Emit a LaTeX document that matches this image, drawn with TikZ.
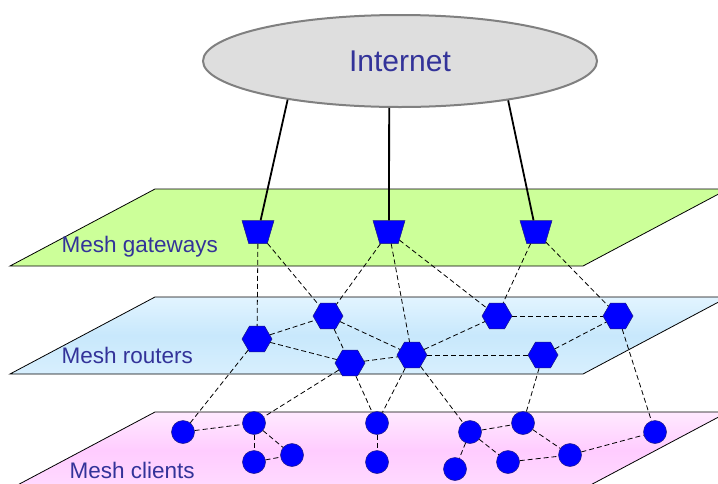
\documentclass[tikz,border=0pt]{standalone}
\usepackage{fontspec}
\setmainfont{Liberation Sans}
\usetikzlibrary{shapes.geometric}

\definecolor{labelblue}{HTML}{333399}
\definecolor{nodeblue}{HTML}{0000FF}
\definecolor{nodeedge}{HTML}{1A1A80}
\definecolor{gwgreen}{HTML}{CCFF99}
\definecolor{rtlight}{HTML}{E2F4FF}
\definecolor{rtmid}{HTML}{C8E8FC}
\definecolor{cllight}{HTML}{FFEAFF}
\definecolor{clmid}{HTML}{FFCCFF}
\definecolor{inetgray}{HTML}{DEDEDE}
\definecolor{inetedge}{HTML}{808080}

\begin{document}
\begin{tikzpicture}[x=1pt,y=-1pt]
    \tikzset{
        plane/.style={draw=black,line width=0.8pt},
        layertext/.style={anchor=west,text=labelblue,
            font=\fontsize{22.5}{26}\selectfont},
        meshnode/.style={fill=nodeblue,draw=nodeedge,line width=0.5pt,
            inner sep=0pt},
        gateway/.style={meshnode,trapezium,trapezium angle=70,
            trapezium stretches=true,inner sep=1pt,
            shape border rotate=180,minimum width=32pt,minimum height=23pt},
        router/.style={meshnode,regular polygon,regular polygon sides=6,
            minimum size=30pt},
        client/.style={meshnode,circle,minimum size=23pt},
        uplink/.style={line width=1.8pt},
        link/.style={line width=0.8pt,dash pattern=on 5pt off 3pt}
    }

    \useasboundingbox (0,0) rectangle (718,483);
    \clip (0,0) rectangle (718,483);

    % the three layers
    \path[plane,fill=gwgreen]
        (155,189) -- (728,189) -- (583,266) -- (10,266) -- cycle;
    \path[plane,top color=rtlight,bottom color=rtlight!60!rtmid,
          middle color=rtmid]
        (155,297) -- (728,297) -- (583,374) -- (10,374) -- cycle;
    \path[plane,top color=cllight,bottom color=cllight!50!clmid,
          middle color=clmid]
        (155,412) -- (728,412) -- (583,489) -- (10,489) -- cycle;

    \node[layertext] at (58,247) {Mesh gateways};
    \node[layertext] at (58,355) {Mesh routers};
    \node[layertext] at (66,470) {Mesh clients};

    \node[ellipse,minimum width=394pt,minimum height=92pt,fill=inetgray,
          draw=inetedge,line width=2pt,text=labelblue,
          font=\fontsize{30}{34}\selectfont] (inet) at (400,61) {Internet};

    \node[gateway] (gw-1) at (258,232) {};
    \node[gateway] (gw-2) at (389,232) {};
    \node[gateway] (gw-3) at (536,232) {};

    \node[router] (rt-1) at (257,339) {};
    \node[router] (rt-2) at (328,316) {};
    \node[router] (rt-3) at (350,363) {};
    \node[router] (rt-4) at (412,355) {};
    \node[router] (rt-5) at (497,316) {};
    \node[router] (rt-6) at (543,355) {};
    \node[router] (rt-7) at (618,316) {};

    \node[client] (cl-1) at (183,432) {};
    \node[client] (cl-2) at (254,423) {};
    \node[client] (cl-3) at (254,462) {};
    \node[client] (cl-4) at (292,455) {};
    \node[client] (cl-5) at (377,423) {};
    \node[client] (cl-6) at (377,462) {};
    \node[client] (cl-7) at (470,432) {};
    \node[client] (cl-8) at (523,423) {};
    \node[client] (cl-9) at (655,432) {};
    \node[client] (cl-10) at (455,469) {};
    \node[client] (cl-11) at (508,462) {};
    \node[client] (cl-12) at (570,455) {};

    \draw[uplink] (inet.199) -- (gw-1);
    \draw[uplink] (inet.257) -- (gw-2);
    \draw[uplink] (inet.340) -- (gw-3);

    \foreach \a/\b in {
        gw-1/rt-1,gw-1/rt-2,gw-2/rt-2,gw-2/rt-4,gw-2/rt-5,gw-3/rt-5,gw-3/rt-7,
        rt-1/rt-2,rt-1/rt-3,rt-2/rt-3,rt-2/rt-4,rt-3/rt-4,rt-4/rt-5,
        rt-4/rt-6,rt-5/rt-7,rt-6/rt-7,
        rt-1/cl-1,rt-3/cl-2,rt-3/cl-5,rt-4/cl-5,rt-4/cl-7,rt-6/cl-8,rt-7/cl-9,
        cl-1/cl-2,cl-2/cl-3,cl-2/cl-4,cl-3/cl-4,cl-5/cl-6,cl-7/cl-8,
        cl-7/cl-10,cl-7/cl-11,cl-8/cl-12,cl-11/cl-12,cl-12/cl-9}{
        \draw[link] (\a) -- (\b);
    }
\end{tikzpicture}
\end{document}
